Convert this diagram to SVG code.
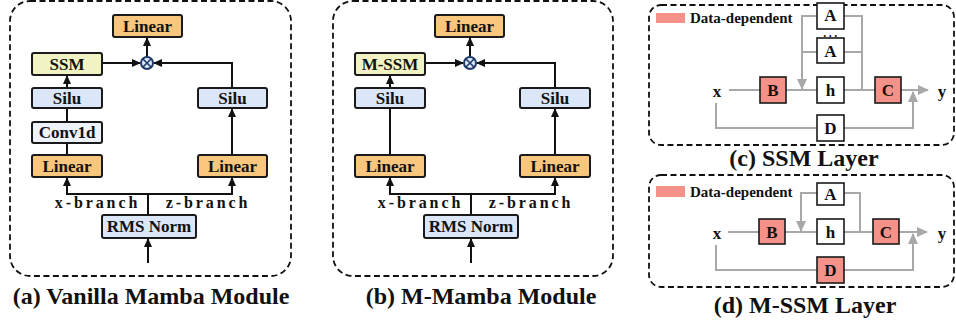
<svg xmlns="http://www.w3.org/2000/svg" width="956" height="329" viewBox="0 0 956 329">
<defs>
<style>
.frame{fill:none;stroke:#111;stroke-width:1.8;stroke-dasharray:6 3.5}
.box{stroke:#1a1a1a;stroke-width:2}
.lin{fill:#f8c67c}
.ssm{fill:#f1f3c3}
.silu{fill:#dbe6f8}
.conv{fill:#eef2fb}
.wbox{fill:#fff;stroke:#1a1a1a;stroke-width:1.6}
.rbox{fill:#f4928a;stroke:#1a1a1a;stroke-width:1.6}
.t{font-family:"Liberation Serif","Times New Roman",serif;font-weight:bold;font-size:17px;fill:#111;text-anchor:middle}
.br{font-family:"Liberation Serif","Times New Roman",serif;font-weight:bold;font-size:16px;letter-spacing:2.9px;fill:#111;text-anchor:middle}
.cap{font-family:"Liberation Serif","Times New Roman",serif;font-weight:bold;font-size:24px;fill:#111;text-anchor:middle}
.leg{font-family:"Liberation Serif","Times New Roman",serif;font-weight:bold;font-size:15px;fill:#111}
.dots{font-family:"Liberation Serif","Times New Roman",serif;font-weight:bold;font-size:12px;letter-spacing:2.5px;fill:#111;text-anchor:middle}
.bl{fill:none;stroke:#111;stroke-width:2}
.gl{fill:none;stroke:#a8a8a8;stroke-width:2}
</style>
<marker id="ab" markerUnits="userSpaceOnUse" markerWidth="9" markerHeight="9" refX="8" refY="4.5" orient="auto"><path d="M0,0.5 L9,4.5 L0,8.5 z" fill="#111"/></marker>
<marker id="ag" markerUnits="userSpaceOnUse" markerWidth="11" markerHeight="10" refX="10" refY="5" orient="auto"><path d="M0,0 L11,5 L0,10 z" fill="#a8a8a8"/></marker>
</defs>

<!-- Panel (a) -->
<rect class="frame" x="10" y="1" width="281" height="275" rx="20"/>
<g id="a-connectors">
<line class="bl" x1="148" y1="263" x2="148" y2="239" marker-end="url(#ab)"/>
<line class="bl" x1="148" y1="215" x2="148" y2="194"/>
<path class="bl" d="M148,194 H67 V178" marker-end="url(#ab)"/>
<path class="bl" d="M148,194 H232 V178" marker-end="url(#ab)"/>
<line class="bl" x1="67" y1="155" x2="67" y2="143"/>
<line class="bl" x1="67" y1="122" x2="67" y2="108"/>
<line class="bl" x1="67" y1="88" x2="67" y2="76" marker-end="url(#ab)"/>
<line class="bl" x1="102" y1="63" x2="140" y2="63" marker-end="url(#ab)"/>
<line class="bl" x1="232" y1="155" x2="232" y2="109" marker-end="url(#ab)"/>
<path class="bl" d="M232,88 V63 H154" marker-end="url(#ab)"/>
<line class="bl" x1="147" y1="57" x2="147" y2="38" marker-end="url(#ab)"/>
</g>
<g id="a-linear-top"><rect class="box lin" x="113" y="15" width="69" height="22" rx="2"/><text class="t" x="147.5" y="32">Linear</text></g>
<g id="a-mult"><circle cx="147" cy="63" r="6" fill="#dbe6f8" stroke="#1f3a68" stroke-width="2"/><path d="M143,59 L151,67 M151,59 L143,67" stroke="#1f3a68" stroke-width="1.6"/></g>
<g id="a-ssm"><rect class="box ssm" x="32" y="53" width="70" height="22" rx="2"/><text class="t" x="67" y="70">SSM</text></g>
<g id="a-silu-l"><rect class="box silu" x="32" y="88" width="70" height="20" rx="2"/><text class="t" x="67" y="104">Silu</text></g>
<g id="a-conv"><rect class="box conv" x="32" y="122" width="70" height="21" rx="2"/><text class="t" x="67" y="138">Conv1d</text></g>
<g id="a-linear-l"><rect class="box lin" x="32" y="155" width="70" height="22" rx="2"/><text class="t" x="67" y="172">Linear</text></g>
<g id="a-silu-r"><rect class="box silu" x="198" y="88" width="69" height="20" rx="2"/><text class="t" x="232.5" y="104">Silu</text></g>
<g id="a-linear-r"><rect class="box lin" x="198" y="155" width="69" height="22" rx="2"/><text class="t" x="232.5" y="172">Linear</text></g>
<g id="a-rms"><rect class="box silu" x="102" y="215" width="94" height="23" rx="2"/><text class="t" x="149" y="232">RMS Norm</text></g>
<text class="br" x="97.5" y="208">x-branch</text>
<text class="br" x="208" y="208">z-branch</text>
<text class="cap" x="151" y="304">(a) Vanilla Mamba Module</text>

<!-- Panel (b) -->
<rect class="frame" x="333" y="1" width="280" height="275" rx="20"/>
<g id="b-connectors">
<line class="bl" x1="471" y1="263" x2="471" y2="239" marker-end="url(#ab)"/>
<line class="bl" x1="471" y1="215" x2="471" y2="194"/>
<path class="bl" d="M471,194 H390 V178" marker-end="url(#ab)"/>
<path class="bl" d="M471,194 H555 V178" marker-end="url(#ab)"/>
<line class="bl" x1="390" y1="155" x2="390" y2="108"/>
<line class="bl" x1="390" y1="88" x2="390" y2="76" marker-end="url(#ab)"/>
<line class="bl" x1="425" y1="63" x2="463" y2="63" marker-end="url(#ab)"/>
<line class="bl" x1="555" y1="155" x2="555" y2="109" marker-end="url(#ab)"/>
<path class="bl" d="M555,88 V63 H477" marker-end="url(#ab)"/>
<line class="bl" x1="470" y1="57" x2="470" y2="38" marker-end="url(#ab)"/>
</g>
<g id="b-linear-top"><rect class="box lin" x="435" y="15" width="69" height="22" rx="2"/><text class="t" x="469.5" y="32">Linear</text></g>
<g id="b-mult"><circle cx="470" cy="63" r="6" fill="#dbe6f8" stroke="#1f3a68" stroke-width="2"/><path d="M466,59 L474,67 M474,59 L466,67" stroke="#1f3a68" stroke-width="1.6"/></g>
<g id="b-mssm"><rect class="box ssm" x="355" y="53" width="70" height="22" rx="2"/><text class="t" x="390" y="70">M-SSM</text></g>
<g id="b-silu-l"><rect class="box silu" x="355" y="88" width="70" height="20" rx="2"/><text class="t" x="390" y="104">Silu</text></g>
<g id="b-linear-l"><rect class="box lin" x="355" y="155" width="70" height="22" rx="2"/><text class="t" x="390" y="172">Linear</text></g>
<g id="b-silu-r"><rect class="box silu" x="520" y="88" width="70" height="20" rx="2"/><text class="t" x="555" y="104">Silu</text></g>
<g id="b-linear-r"><rect class="box lin" x="520" y="155" width="70" height="22" rx="2"/><text class="t" x="555" y="172">Linear</text></g>
<g id="b-rms"><rect class="box silu" x="424" y="215" width="94" height="23" rx="2"/><text class="t" x="471" y="232">RMS Norm</text></g>
<text class="br" x="420.5" y="208">x-branch</text>
<text class="br" x="531" y="208">z-branch</text>
<text class="cap" x="481" y="304">(b) M-Mamba Module</text>

<!-- Panel (c) -->
<rect class="frame" x="649" y="5" width="305" height="140" rx="12"/>
<rect x="656" y="13" width="29" height="10" fill="#f4928a"/>
<text class="leg" x="690" y="23">Data-dependent</text>
<g id="c-connectors">
<line class="gl" x1="729" y1="90" x2="760" y2="90"/>
<line class="gl" x1="786" y1="90" x2="817" y2="90"/>
<line class="gl" x1="844" y1="90" x2="875" y2="90"/>
<line class="gl" x1="901" y1="90" x2="928" y2="90" marker-end="url(#ag)"/>
<path class="gl" d="M817,16 H802 V89" marker-end="url(#ag)"/>
<line class="gl" x1="802" y1="52" x2="817" y2="52"/>
<path class="gl" d="M844,16 H862 V90"/>
<line class="gl" x1="844" y1="52" x2="862" y2="52"/>
<path class="gl" d="M716,103 V128 H817 M844,128 H913 V92" marker-end="url(#ag)"/>
</g>
<g id="c-A1"><rect class="wbox" x="817" y="3" width="27" height="26"/><text class="t" x="830.5" y="21">A</text></g>
<text class="dots" x="831.5" y="37">...</text>
<g id="c-A2"><rect class="wbox" x="817" y="38" width="27" height="25"/><text class="t" x="830.5" y="57">A</text></g>
<g id="c-B"><rect class="rbox" x="760" y="77" width="26" height="26"/><text class="t" x="773" y="96">B</text></g>
<g id="c-h"><rect class="wbox" x="817" y="77" width="27" height="26"/><text class="t" x="830.5" y="96">h</text></g>
<g id="c-C"><rect class="rbox" x="875" y="77" width="26" height="26"/><text class="t" x="888" y="96">C</text></g>
<g id="c-D"><rect class="wbox" x="817" y="115" width="27" height="26"/><text class="t" x="830.5" y="134">D</text></g>
<text class="t" x="717" y="97">x</text>
<text class="t" x="942" y="97">y</text>
<text class="cap" x="804" y="166">(c) SSM Layer</text>

<!-- Panel (d) -->
<rect class="frame" x="649" y="175" width="305" height="112" rx="12"/>
<rect x="656" y="186" width="29" height="11" fill="#f4928a"/>
<text class="leg" x="690" y="197">Data-dependent</text>
<g id="d-connectors">
<line class="gl" x1="728" y1="232" x2="759" y2="232"/>
<line class="gl" x1="785" y1="232" x2="817" y2="232"/>
<line class="gl" x1="844" y1="232" x2="873" y2="232"/>
<line class="gl" x1="899" y1="232" x2="927" y2="232" marker-end="url(#ag)"/>
<path class="gl" d="M817,193 H801 V231" marker-end="url(#ag)"/>
<path class="gl" d="M844,193 H860 V232"/>
<path class="gl" d="M716,245 V270 H817 M844,270 H913 V234" marker-end="url(#ag)"/>
</g>
<g id="d-A"><rect class="wbox" x="817" y="183" width="27" height="22"/><text class="t" x="830.5" y="200">A</text></g>
<g id="d-B"><rect class="rbox" x="759" y="219" width="26" height="25"/><text class="t" x="772" y="238">B</text></g>
<g id="d-h"><rect class="wbox" x="817" y="219" width="27" height="25"/><text class="t" x="830.5" y="238">h</text></g>
<g id="d-C"><rect class="rbox" x="873" y="219" width="26" height="25"/><text class="t" x="886" y="238">C</text></g>
<g id="d-D"><rect class="rbox" x="817" y="257" width="27" height="26"/><text class="t" x="830.5" y="276">D</text></g>
<text class="t" x="717" y="239">x</text>
<text class="t" x="942" y="239">y</text>
<text class="cap" x="805" y="313">(d) M-SSM Layer</text>
</svg>
